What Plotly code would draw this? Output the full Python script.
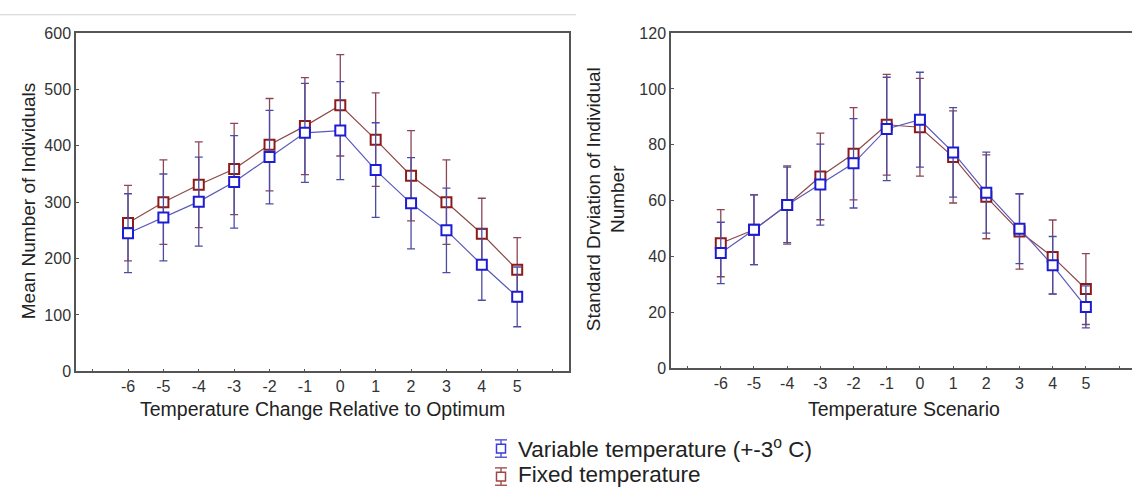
import plotly.graph_objects as go

W, H = 1132, 502

scenarios = [-6, -5, -4, -3, -2, -1, 0, 1, 2, 3, 4, 5]
tick_vals = [-7, -6, -5, -4, -3, -2, -1, 0, 1, 2, 3, 4, 5, 6]
tick_text = ["", "-6", "-5", "-4", "-3", "-2", "-1", "0", "1", "2", "3", "4", "5", ""]

mean_fixed = [263, 300, 331, 359, 402, 435, 472, 411, 347, 300, 244, 180]
mean_fixed_err = [67, 75, 76, 81, 82, 86, 90, 83, 80, 75, 63, 57]
mean_var = [245, 273, 301, 336, 380, 423, 427, 357, 298, 250, 189, 132]
mean_var_err = [70, 77, 79, 82, 83, 88, 87, 84, 81, 75, 63, 53]

sd_fixed = [44.8, 49.6, 58.5, 68.7, 76.8, 87.2, 86.3, 75.7, 61.4, 49.0, 39.9, 28.4]
sd_fixed_err = [12.0, 12.5, 14.0, 15.5, 16.5, 18.0, 17.5, 16.5, 15.0, 13.5, 13.2, 12.7]
sd_var = [41.3, 49.6, 58.5, 65.8, 73.4, 85.7, 89.0, 77.3, 62.9, 50.0, 36.9, 22.0]
sd_var_err = [11.0, 12.5, 13.5, 14.5, 16.0, 18.5, 17.0, 16.0, 14.5, 12.5, 10.3, 7.5]

legend_names = ["Variable temperature (+-3<sup>o</sup> C)", "Fixed temperature"]

RED_M, RED_L, RED_E = "#8c1c1c", "#8f4848", "#8a4656"
BLU_M, BLU_L, BLU_E = "#1c1cd6", "#5a5abc", "#4c4ca4"
LEG_COLS = [("#3a3ae0", "#5a5ad8"), ("#a04444", "#a85a5a")]

def px(x):
    return x / W

def py(y):
    return 1 - y / H

fig = go.Figure()

def add_series(x, y, err, mcol, lcol, ecol, xa, ya):
    fig.add_trace(go.Scatter(
        x=x, y=y, mode="lines+markers", xaxis=xa, yaxis=ya, showlegend=False,
        line=dict(color=lcol, width=1.2),
        marker=dict(symbol="square", size=10, color="white", line=dict(color=mcol, width=2)),
        error_y=dict(type="data", array=err, visible=True, color=ecol, thickness=1.3, width=4),
    ))

add_series(scenarios, mean_fixed, mean_fixed_err, RED_M, RED_L, RED_E, "x", "y")
add_series(scenarios, mean_var, mean_var_err, BLU_M, BLU_L, BLU_E, "x", "y")
add_series(scenarios, sd_fixed, sd_fixed_err, RED_M, RED_L, RED_E, "x2", "y2")
add_series(scenarios, sd_var, sd_var_err, BLU_M, BLU_L, BLU_E, "x2", "y2")

AX = "#555555"
FONT = "Liberation Sans, Arial, sans-serif"
TICKF = dict(size=16, color="#333")
XTITLEF = dict(size=19.5, color="#222")
YTITLEF = dict(size=19, color="#222")
common_x = dict(tickmode="array", tickvals=tick_vals, ticktext=tick_text, ticks="inside",
                ticklen=3, tickcolor=AX, showline=True, linecolor=AX, linewidth=1.5,
                showgrid=False, zeroline=False, tickfont=TICKF)
common_y = dict(ticks="inside", ticklen=3, tickcolor=AX, showline=True, linecolor=AX,
                linewidth=1.5, showgrid=False, zeroline=False, tickfont=TICKF)

shapes = [dict(type="line", xref="paper", yref="paper", x0=0, x1=px(576), y0=py(7), y1=py(7),
               line=dict(color="#d0d0d0", width=1))]
annotations = []

# manual legend: open square with vertical error bar and caps
leg_x, sym_rows, txt_rows = 501, [456, 485], [455, 483]
for (mcol, ecol), ys, yt, nm in zip(LEG_COLS, sym_rows, txt_rows, legend_names):
    shapes.append(dict(type="line", xref="paper", yref="paper", x0=px(leg_x), x1=px(leg_x),
                       y0=py(ys - 9), y1=py(ys + 9), line=dict(color=ecol, width=1.5)))
    for cy in (ys - 9, ys + 9):
        shapes.append(dict(type="line", xref="paper", yref="paper", x0=px(leg_x - 6), x1=px(leg_x + 6),
                           y0=py(cy), y1=py(cy), line=dict(color=ecol, width=1.5)))
    shapes.append(dict(type="rect", xref="paper", yref="paper", x0=px(leg_x - 4.5), x1=px(leg_x + 4.5),
                       y0=py(ys - 4.5), y1=py(ys + 4.5), fillcolor="white", line=dict(color=mcol, width=1.5)))
    annotations.append(dict(text=nm, x=px(516), y=py(yt), xref="paper", yref="paper", showarrow=False,
                            xanchor="left", yanchor="middle", font=dict(size=22.5, color="#222")))

annotations += [
    dict(text="Temperature Change Relative to Optimum", x=px(323), y=py(415), xref="paper", yref="paper",
         showarrow=False, font=XTITLEF, xanchor="center", yanchor="middle"),
    dict(text="Mean Number of Individuals", x=px(28), y=py(200), xref="paper", yref="paper",
         showarrow=False, textangle=-90, font=YTITLEF, xanchor="center", yanchor="middle"),
    dict(text="Temperature Scenario", x=px(904), y=py(415), xref="paper", yref="paper",
         showarrow=False, font=XTITLEF, xanchor="center", yanchor="middle"),
    dict(text="Standard Drviation of Individual<br>Number", x=px(606), y=py(198), xref="paper", yref="paper",
         showarrow=False, textangle=-90, font=YTITLEF, xanchor="center", yanchor="middle"),
]

fig.update_layout(
    width=W, height=H, margin=dict(l=0, r=0, t=0, b=0),
    paper_bgcolor="white", plot_bgcolor="white",
    font=dict(family=FONT, color="#333"),
    xaxis=dict(domain=[px(76), px(568.5)], range=[-7.47, 6.45], anchor="y", mirror=True, **common_x),
    yaxis=dict(domain=[py(376), py(26)], range=[0, 600], dtick=100, anchor="x", mirror=True, **common_y),
    xaxis2=dict(domain=[px(671), 1.0], range=[-7.5, 6.39], anchor="y2", mirror=True, **common_x),
    yaxis2=dict(domain=[py(373), py(26)], range=[0, 120], dtick=20, anchor="x2", mirror=False, **common_y),
    showlegend=False,
    shapes=shapes,
    annotations=annotations,
)

fig.write_html("out.html")
